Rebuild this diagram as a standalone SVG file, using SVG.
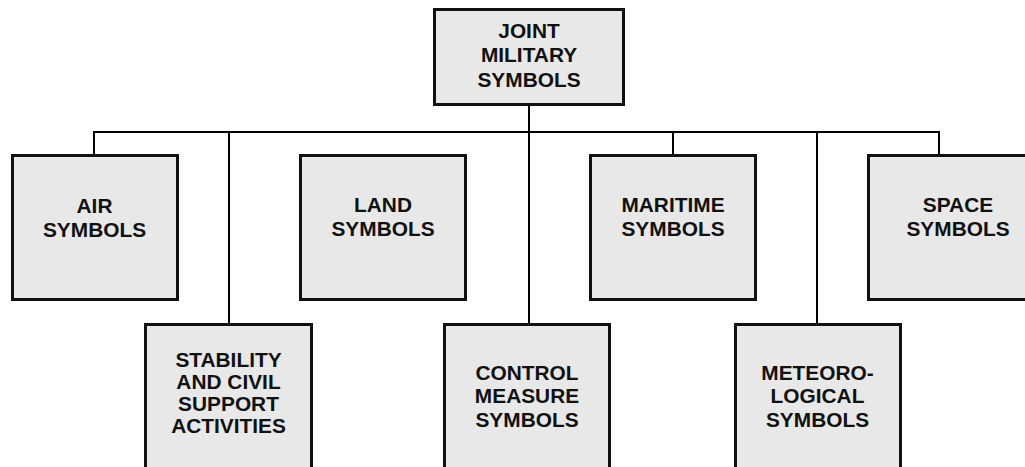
<svg xmlns="http://www.w3.org/2000/svg" width="1025" height="467" viewBox="0 0 1025 467">
<style>
.box{fill:#e8e8e8;stroke:#111;stroke-width:3}
.ln{stroke:#000;stroke-width:2;fill:none}
.t{font-family:"Liberation Sans",Arial,sans-serif;font-weight:bold;font-size:19.5px;text-anchor:middle;fill:#111}
</style>
<rect width="1025" height="467" fill="#fff"/>
<g id="connectors">
<path class="ln" d="M529 105V323M94 154V132H939V154M229 132V323M673 132V154M817 132V323"/>
</g>
<g id="joint">
<rect class="box" x="434.5" y="9.5" width="189" height="95"/>
<g transform="translate(529 0) scale(1.07 1)"><text class="t" x="0" y="38">JOINT</text><text class="t" x="0" y="62.5">MILITARY</text><text class="t" x="0" y="87">SYMBOLS</text></g>
</g>
<g id="air">
<rect class="box" x="12.5" y="155.5" width="165" height="144"/>
<g transform="translate(94.5 0) scale(1.07 1)"><text class="t" x="0" y="213">AIR</text><text class="t" x="0" y="237.5">SYMBOLS</text></g>
</g>
<g id="land">
<rect class="box" x="300.5" y="155.5" width="165" height="144"/>
<g transform="translate(383 0) scale(1.07 1)"><text class="t" x="0" y="212">LAND</text><text class="t" x="0" y="236">SYMBOLS</text></g>
</g>
<g id="maritime">
<rect class="box" x="590.5" y="155.5" width="165" height="144"/>
<g transform="translate(673 0) scale(1.07 1)"><text class="t" x="0" y="212">MARITIME</text><text class="t" x="0" y="236">SYMBOLS</text></g>
</g>
<g id="space">
<rect class="box" x="868.5" y="155.5" width="180" height="144"/>
<g transform="translate(958 0) scale(1.07 1)"><text class="t" x="0" y="212">SPACE</text><text class="t" x="0" y="236">SYMBOLS</text></g>
</g>
<g id="stability">
<rect class="box" x="145.5" y="324.5" width="166" height="150"/>
<g transform="translate(228.5 0) scale(1.07 1)"><text class="t" x="0" y="367">STABILITY</text><text class="t" x="0" y="389">AND CIVIL</text><text class="t" x="0" y="411">SUPPORT</text><text class="t" x="0" y="433">ACTIVITIES</text></g>
</g>
<g id="control">
<rect class="box" x="444.5" y="324.5" width="165" height="150"/>
<g transform="translate(527 0) scale(1.07 1)"><text class="t" x="0" y="380">CONTROL</text><text class="t" x="0" y="403.5">MEASURE</text><text class="t" x="0" y="427">SYMBOLS</text></g>
</g>
<g id="meteorological">
<rect class="box" x="735.5" y="324.5" width="165" height="150"/>
<g transform="translate(817.5 0) scale(1.07 1)"><text class="t" x="0" y="380">METEORO-</text><text class="t" x="0" y="403.5">LOGICAL</text><text class="t" x="0" y="427">SYMBOLS</text></g>
</g>
</svg>
